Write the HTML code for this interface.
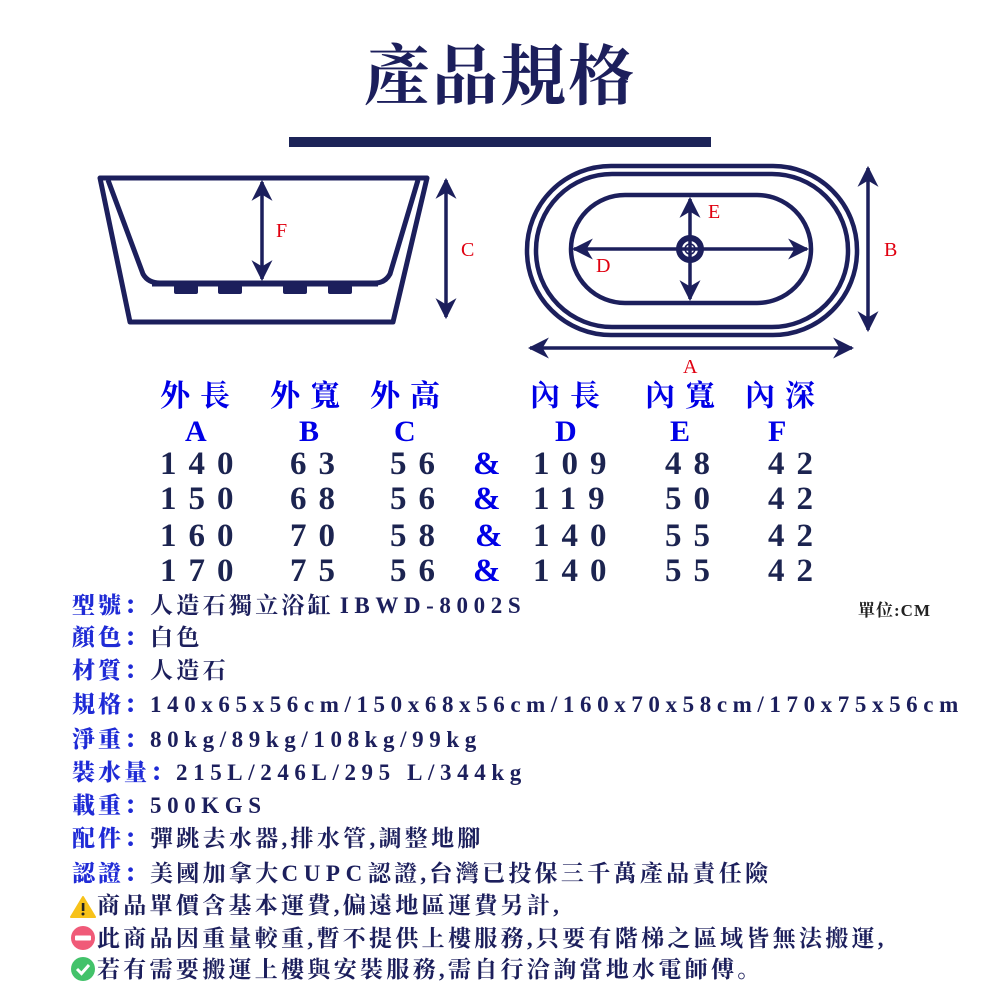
<!DOCTYPE html>
<html><head><meta charset="utf-8"><style>
body{margin:0;width:1000px;height:1000px;background:#fff;position:relative;overflow:hidden;font-family:"Liberation Serif","Noto Serif CJK SC",serif;}
.a{position:absolute;white-space:nowrap;}
.t{font-size:66px;font-weight:bold;color:#1c1f5c;left:0;width:1000px;text-align:center;top:30px;line-height:96px;letter-spacing:2px}
.h{color:#0000e6;font-weight:bold;font-size:30px;line-height:40px;letter-spacing:10px}
.n{color:#1c2450;font-size:33px;line-height:40px;letter-spacing:12px;font-weight:bold}
.amp{color:#0000e6;font-size:33px;line-height:40px;font-weight:bold}
.l{font-size:23px;line-height:32px;left:72px;font-weight:bold;color:#1c1f5c}
.l b{color:#1f2bd6;letter-spacing:3px}
.l .c{letter-spacing:3.3px}
.l .e{letter-spacing:5.6px}
</style></head><body>
<div class="a t">產品規格</div>
<div class="a" style="left:289px;top:137px;width:422px;height:10px;background:#1c2458"></div>
<svg class="a" style="left:0;top:0" width="1000" height="380" viewBox="0 0 1000 380">
<defs><marker id="ar" viewBox="0 0 10 10" refX="9" refY="5" markerWidth="6" markerHeight="6.5" orient="auto-start-reverse" markerUnits="strokeWidth"><path d="M0,0 L10,5 L0,10 L3,5z" fill="#1c1f5c"/></marker></defs>
<g fill="none" stroke="#1c1f5c" stroke-width="5" stroke-linejoin="round">
<path d="M100,178 L427,178 L393,322 L130,322 Z"/>
<path d="M108,180 L143,274 Q148,283 160,283 L375,283 Q385,283 390,274 L418,180"/>
<path d="M152,285 L378,285" stroke-width="3"/>
</g>
<g fill="#1c1f5c"><rect x="174" y="285" width="24" height="9" rx="2"/><rect x="218" y="285" width="24" height="9" rx="2"/><rect x="283" y="285" width="24" height="9" rx="2"/><rect x="328" y="285" width="24" height="9" rx="2"/></g>
<g stroke="#1c1f5c" stroke-width="3.5" fill="none">
<line x1="262" y1="182" x2="262" y2="279" marker-start="url(#ar)" marker-end="url(#ar)"/>
<line x1="446" y1="180" x2="446" y2="317" marker-start="url(#ar)" marker-end="url(#ar)"/>
</g>
<g fill="none" stroke="#1c1f5c" stroke-width="4.5">
<rect x="527" y="166" width="330" height="169" rx="84"/>
<rect x="536" y="174" width="312" height="153" rx="76"/>
<rect x="571" y="195" width="240" height="108" rx="54"/>
</g>
<g stroke="#1c1f5c" stroke-width="3.5" fill="none">
<line x1="530" y1="348" x2="852" y2="348" marker-start="url(#ar)" marker-end="url(#ar)"/>
<line x1="868" y1="168" x2="868" y2="330" marker-start="url(#ar)" marker-end="url(#ar)"/>
<line x1="574" y1="249" x2="807" y2="249" marker-start="url(#ar)" marker-end="url(#ar)"/>
<line x1="690" y1="199" x2="690" y2="299" marker-start="url(#ar)" marker-end="url(#ar)"/>
</g>
<circle cx="690" cy="249" r="11" fill="none" stroke="#1c1f5c" stroke-width="6"/>
<circle cx="690" cy="249" r="5" fill="none" stroke="#1c1f5c" stroke-width="1.5"/>
<g fill="#e00010" font-family="Liberation Serif,serif" font-size="20">
<text x="276" y="237">F</text><text x="461" y="256">C</text><text x="708" y="218">E</text><text x="596" y="272">D</text><text x="884" y="256">B</text><text x="683" y="373">A</text>
</g>
</svg>
<div class="a h" style="left:160px;top:377px">外長</div>
<div class="a h" style="left:270px;top:377px">外寬</div>
<div class="a h" style="left:370px;top:377px">外高</div>
<div class="a h" style="left:530px;top:377px">內長</div>
<div class="a h" style="left:645px;top:377px">內寬</div>
<div class="a h" style="left:745px;top:377px">內深</div>
<div class="a h" style="left:185px;top:412px">A</div>
<div class="a h" style="left:299px;top:412px">B</div>
<div class="a h" style="left:394px;top:412px">C</div>
<div class="a h" style="left:555px;top:412px">D</div>
<div class="a h" style="left:670px;top:412px">E</div>
<div class="a h" style="left:768px;top:412px">F</div>

<div class="a n" style="left:160px;top:444px">140</div><div class="a n" style="left:290px;top:444px">63</div><div class="a n" style="left:390px;top:444px">56</div><div class="a amp" style="left:473px;top:444px">&amp;</div><div class="a n" style="left:533px;top:444px">109</div><div class="a n" style="left:665px;top:444px">48</div><div class="a n" style="left:768px;top:444px">42</div>
<div class="a n" style="left:160px;top:479px">150</div><div class="a n" style="left:290px;top:479px">68</div><div class="a n" style="left:390px;top:479px">56</div><div class="a amp" style="left:473px;top:479px">&amp;</div><div class="a n" style="left:533px;top:479px">119</div><div class="a n" style="left:665px;top:479px">50</div><div class="a n" style="left:768px;top:479px">42</div>
<div class="a n" style="left:160px;top:516px">160</div><div class="a n" style="left:290px;top:516px">70</div><div class="a n" style="left:390px;top:516px">58</div><div class="a amp" style="left:475px;top:516px">&amp;</div><div class="a n" style="left:533px;top:516px">140</div><div class="a n" style="left:665px;top:516px">55</div><div class="a n" style="left:768px;top:516px">42</div>
<div class="a n" style="left:160px;top:551px">170</div><div class="a n" style="left:290px;top:551px">75</div><div class="a n" style="left:390px;top:551px">56</div><div class="a amp" style="left:473px;top:551px">&amp;</div><div class="a n" style="left:533px;top:551px">140</div><div class="a n" style="left:665px;top:551px">55</div><div class="a n" style="left:768px;top:551px">42</div>

<div class="a" style="left:858px;top:596px;font-size:17px;font-weight:bold;color:#222;letter-spacing:1px">單位:CM</div>

<div class="a l" style="top:590px"><b>型號：</b><span class="c">人造石獨立浴缸</span> <span class="e">IBWD-8002S</span></div>
<div class="a l" style="top:622px"><b>顏色：</b><span class="c">白色</span></div>
<div class="a l" style="top:655px"><b>材質：</b><span class="c">人造石</span></div>
<div class="a l" style="top:689px"><b>規格：</b><span class="e">140x65x56cm/150x68x56cm/160x70x58cm/170x75x56cm</span></div>
<div class="a l" style="top:724px"><b>淨重：</b><span class="e">80kg/89kg/108kg/99kg</span></div>
<div class="a l" style="top:757px"><b>裝水量：</b><span class="e">215L/246L/295 L/344kg</span></div>
<div class="a l" style="top:790px"><b>載重：</b><span class="e">500KGS</span></div>
<div class="a l" style="top:823px"><b>配件：</b><span class="c">彈跳去水器,排水管,調整地腳</span></div>
<div class="a l" style="top:858px"><b>認證：</b><span class="c">美國加拿大</span><span class="e">CUPC</span><span class="c">認證,台灣已投保三千萬產品責任險</span></div>

<svg class="a" style="left:70px;top:895px" width="26" height="24"><path d="M13,2 L25,22 L1,22 Z" fill="#f7c21a" stroke="#f7c21a" stroke-linejoin="round" stroke-width="2"/><rect x="11.8" y="8" width="2.6" height="8" fill="#222"/><circle cx="13" cy="19" r="1.5" fill="#222"/></svg>
<div class="a l" style="top:890px;left:97px"><span class="c">商品單價含基本運費,偏遠地區運費另計,</span></div>
<svg class="a" style="left:70px;top:925px" width="26" height="26"><circle cx="13" cy="13" r="12" fill="#f05a78"/><rect x="5" y="10.5" width="16" height="5" rx="1" fill="#fff"/></svg>
<div class="a l" style="top:923px;left:97px"><span class="c">此商品因重量較重,暫不提供上樓服務,只要有階梯之區域皆無法搬運,</span></div>
<svg class="a" style="left:70px;top:956px" width="26" height="26"><circle cx="13" cy="13" r="12" fill="#43c26a"/><path d="M7,13 L11.5,17.5 L19,9" stroke="#fff" stroke-width="3" fill="none"/></svg>
<div class="a l" style="top:954px;left:97px"><span class="c">若有需要搬運上樓與安裝服務,需自行洽詢當地水電師傅。</span></div>
</body></html>
